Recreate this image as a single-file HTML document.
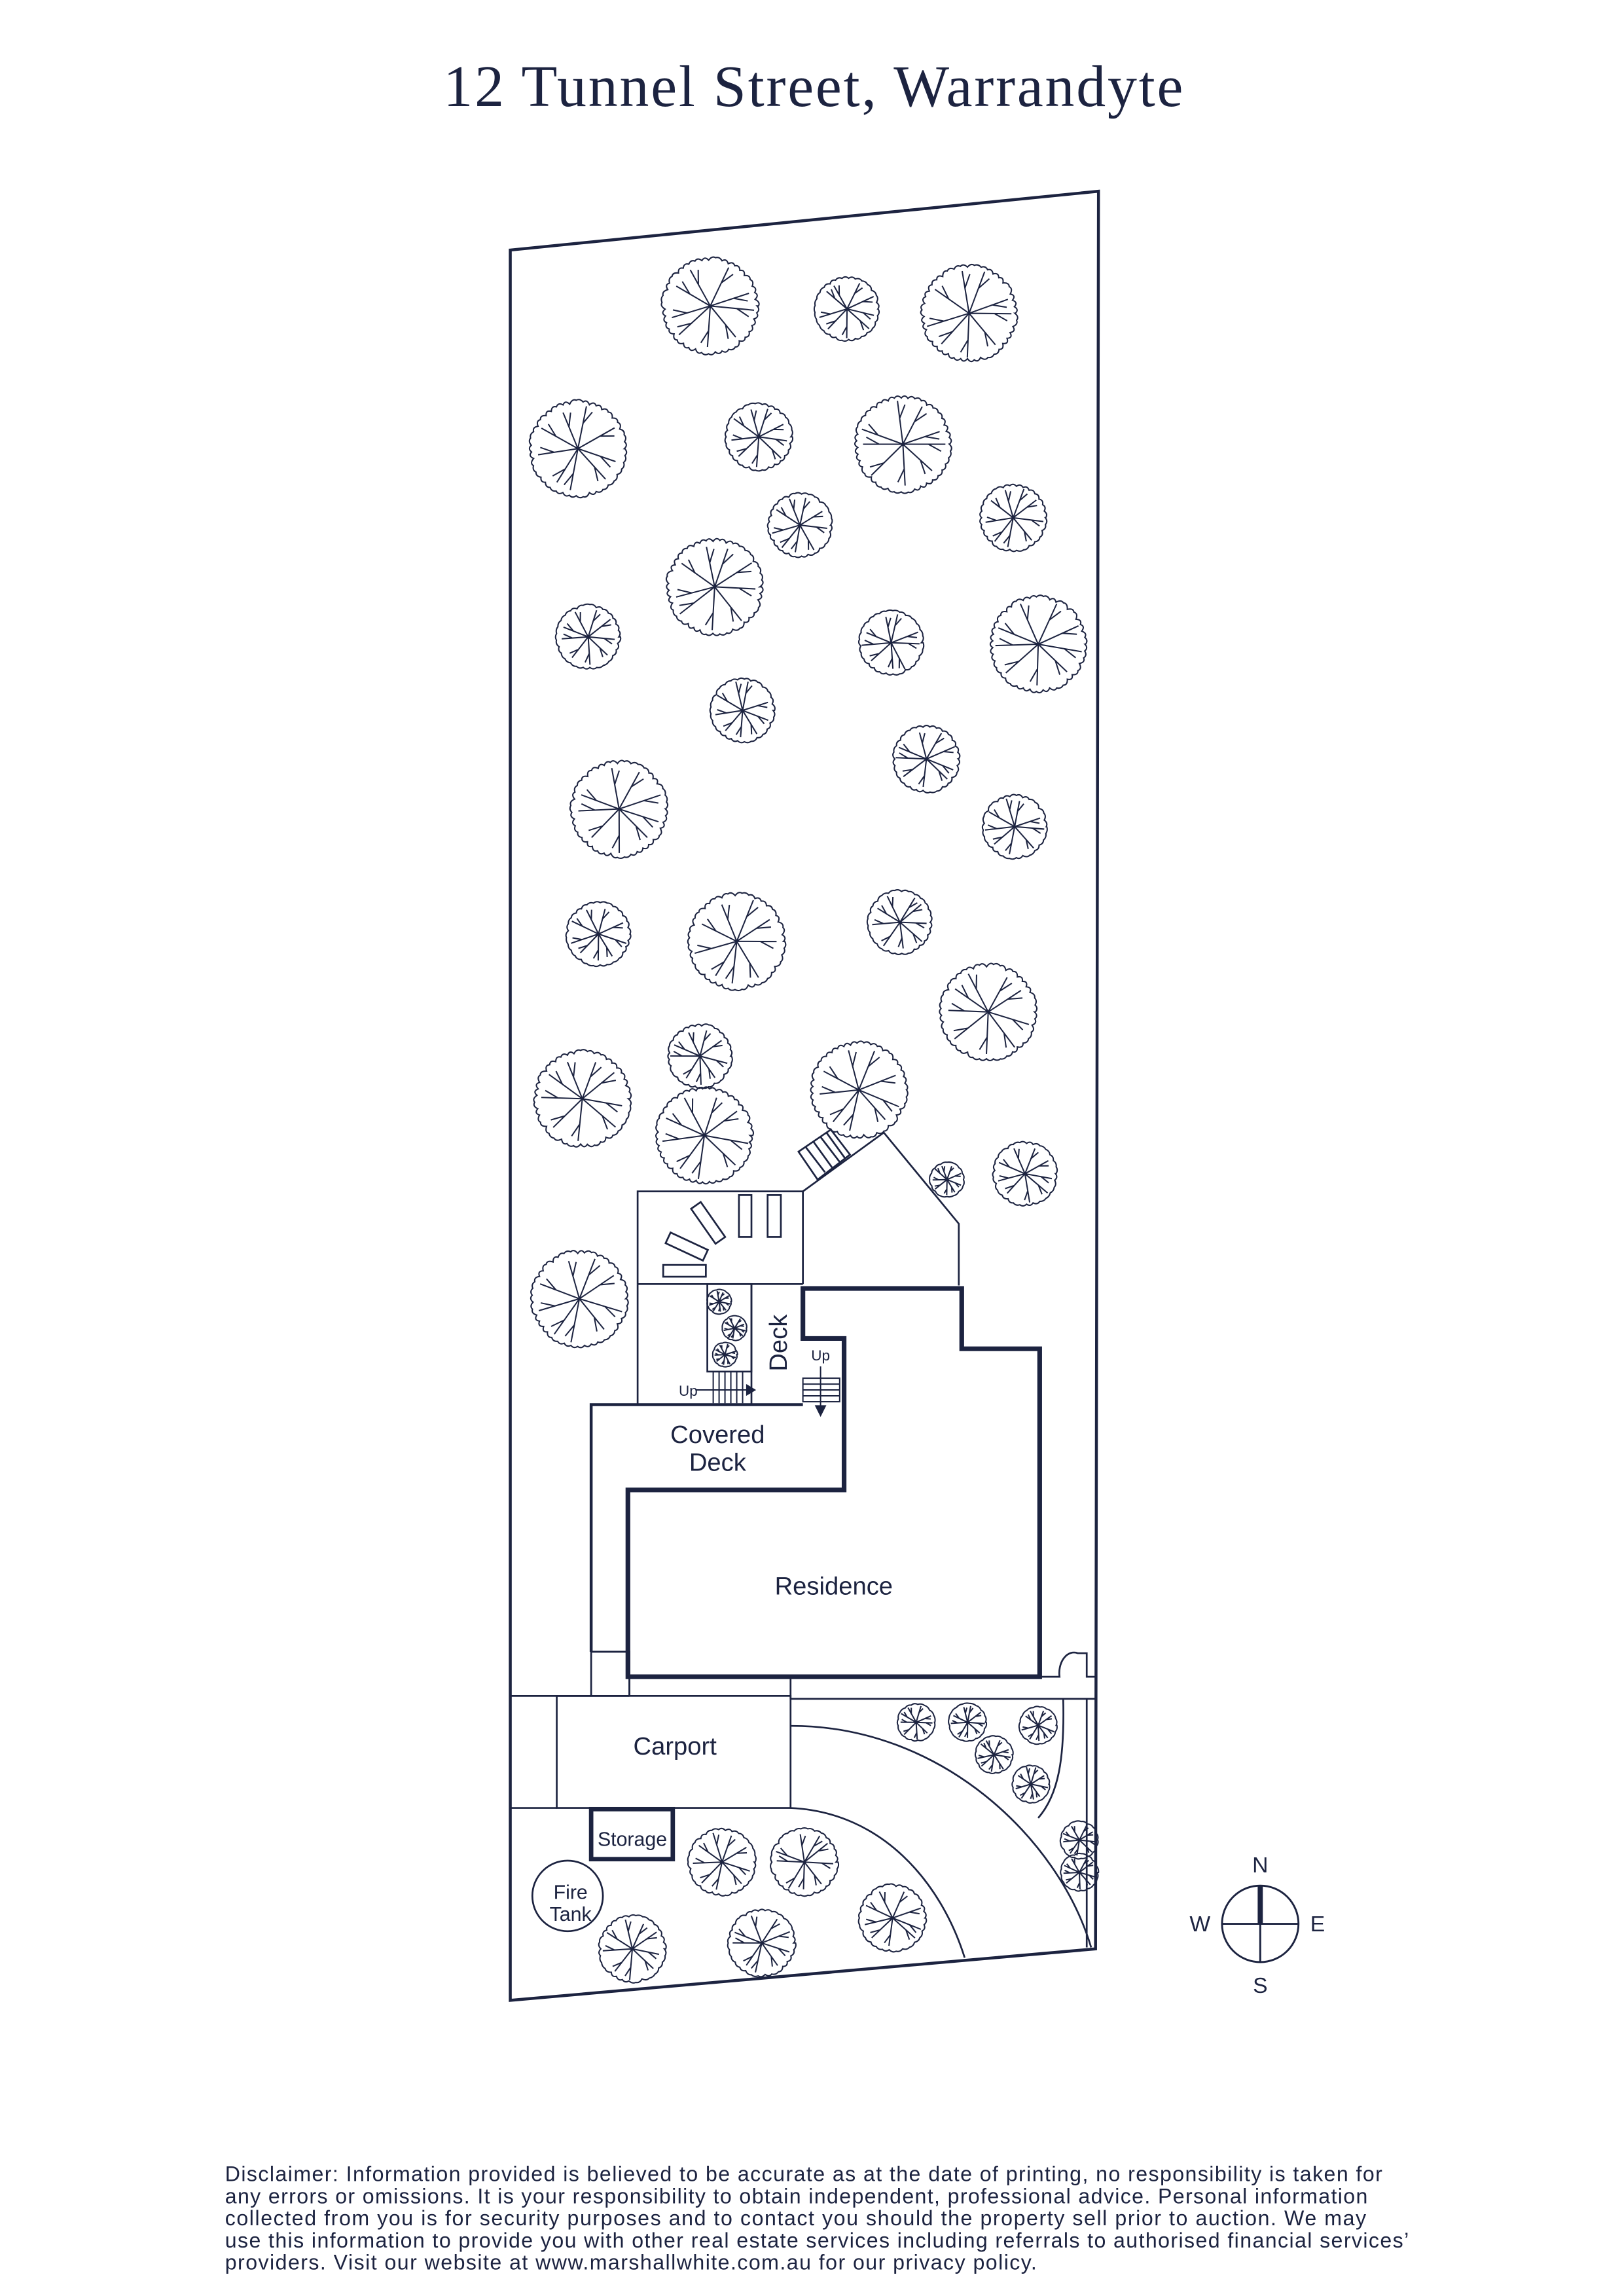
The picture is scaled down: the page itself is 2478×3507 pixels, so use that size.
<!DOCTYPE html>
<html><head><meta charset="utf-8"><style>
html,body{margin:0;padding:0;background:#fff}
svg{display:block}
text{font-family:"Liberation Sans",Arial,sans-serif;fill:#1c2340}
</style></head><body>
<svg id="s" xmlns="http://www.w3.org/2000/svg" width="2478" height="3507" viewBox="0 0 1103 1561">
<rect width="1103" height="1561" fill="#fff"/>
<g stroke="#1c2340" fill="none" stroke-linejoin="miter">
<text x="553" y="72" text-anchor="middle" font-size="40" textLength="503" style="font-family:'Liberation Serif',serif" stroke="none">12 Tunnel Street, Warrandyte</text>
<polygon points="347,170 747,130 745,1325 347,1360" stroke-width="2"/>
<g id="trees" stroke-width="0.9"></g>
<g stroke-width="1.2">
<polyline points="433.6,873 433.6,810 546,810 546,873"/>
<polyline points="546,810 601,770 652,832 652,874"/>
<polygon points="543,783 565,768 578,785 556,802"/>
<line x1="548" y1="780" x2="561" y2="797"/><line x1="553" y1="776" x2="566" y2="794"/><line x1="558" y1="773" x2="571" y2="790"/><line x1="562" y1="770" x2="575" y2="788"/>
<rect x="502.5" y="812.5" width="8.5" height="28.5"/>
<rect x="522" y="812.5" width="9" height="28.5"/>
<rect x="451" y="860" width="29" height="8"/>
<rect x="453" y="843.5" width="28" height="8" transform="rotate(25 467 847.5)"/>
<rect x="467" y="827.5" width="29" height="8" transform="rotate(55 481.6 831.5)"/>
<line x1="433.6" y1="873" x2="546" y2="873"/>
<line x1="433.6" y1="873" x2="433.6" y2="955"/>
<rect x="481" y="873" width="30" height="59.5"/>
<line x1="511" y1="873" x2="511" y2="955"/>
<g stroke-width="0.9"><line x1="485" y1="932.5" x2="485" y2="954"/><line x1="489" y1="932.5" x2="489" y2="954"/><line x1="493" y1="932.5" x2="493" y2="954"/><line x1="497" y1="932.5" x2="497" y2="954"/><line x1="501" y1="932.5" x2="501" y2="954"/><line x1="505" y1="932.5" x2="505" y2="954"/>
<line x1="473" y1="945" x2="508" y2="945"/></g>
<polygon points="508,942 513,945 508,948" fill="#1c2340"/>
<g stroke-width="0.9"><rect x="546" y="937" width="25" height="16"/><line x1="546" y1="941" x2="571" y2="941"/><line x1="546" y1="945" x2="571" y2="945"/><line x1="546" y1="949" x2="571" y2="949"/><line x1="558" y1="929" x2="558" y2="957"/></g>
<polygon points="555,956 558,962 561,956" fill="#1c2340"/>
</g>
<polyline points="402,1123 402,955 546,955" stroke-width="2"/>
<polyline points="402,1123 428,1123 428,1153" stroke-width="1.3"/>
<polygon points="546,876 654,876 654,917 707,917 707,1140 427,1140 427,1013 574,1013 574,910 546,910" stroke-width="3.2"/>
<path d="M707,1140 L720.5,1140 A10 14 0 0 1 733,1124 L739,1124 L739,1140 L745,1140" stroke-width="1.2"/>
<g stroke-width="1.2">
<line x1="347" y1="1153" x2="428" y2="1153"/>
<line x1="402" y1="1123" x2="402" y2="1153"/>
<rect x="378.6" y="1153" width="159" height="76.2"/>
<line x1="347" y1="1229.2" x2="378.6" y2="1229.2"/>
<line x1="537.6" y1="1140" x2="537.6" y2="1155"/>
<line x1="537.6" y1="1155" x2="745" y2="1155"/>
<line x1="739" y1="1155" x2="739" y2="1324"/>
<path d="M537.6,1173.4 C640,1173 720,1250 742,1324"/>
<path d="M537.6,1229.2 C600,1232 640,1280 656,1331"/>
<path d="M723,1155 C724,1195 720,1220 706,1236"/>
<circle cx="386" cy="1289" r="24"/>
</g>
<rect x="402" y="1230" width="55.5" height="34" stroke-width="3"/>
<circle cx="857" cy="1308" r="26" stroke-width="1.3"/>
<line x1="831" y1="1308" x2="883" y2="1308" stroke-width="1.3"/>
<line x1="857" y1="1282" x2="857" y2="1334" stroke-width="1.3"/>
<line x1="857" y1="1282" x2="857" y2="1308" stroke-width="3.5"/>
</g>
<g stroke="none">
<text x="488" y="981" font-size="17" text-anchor="middle">Covered</text>
<text x="488" y="1000" font-size="17" text-anchor="middle">Deck</text>
<text x="0" y="0" font-size="17" text-anchor="middle" transform="translate(535,913) rotate(-90)">Deck</text>
<text x="468" y="949" font-size="10" text-anchor="middle">Up</text>
<text x="558" y="925" font-size="10" text-anchor="middle">Up</text>
<text x="567" y="1084" font-size="17" text-anchor="middle">Residence</text>
<text x="459" y="1193" font-size="17" text-anchor="middle">Carport</text>
<text x="430" y="1255" font-size="13.5" text-anchor="middle">Storage</text>
<text x="388" y="1291" font-size="13.5" text-anchor="middle">Fire</text>
<text x="388" y="1306" font-size="13.5" text-anchor="middle">Tank</text>
<text x="857" y="1273" font-size="15" text-anchor="middle">N</text>
<text x="857" y="1355" font-size="15" text-anchor="middle">S</text>
<text x="816" y="1313" font-size="15" text-anchor="middle">W</text>
<text x="896" y="1313" font-size="15" text-anchor="middle">E</text>
<g font-size="14.3">
<text x="153" y="1483" textLength="787">Disclaimer: Information provided is believed to be accurate as at the date of printing, no responsibility is taken for</text>
<text x="153" y="1498" textLength="777">any errors or omissions. It is your responsibility to obtain independent, professional advice. Personal information</text>
<text x="153" y="1513" textLength="776">collected from you is for security purposes and to contact you should the property sell prior to auction. We may</text>
<text x="153" y="1528" textLength="805">use this information to provide you with other real estate services including referrals to authorised financial services’</text>
<text x="153" y="1543" textLength="552">providers. Visit our website at www.marshallwhite.com.au for our privacy policy.</text>
</g>
</g>
</svg>
<script>
(function(){
var T=[[483,208,33],[576,210,22],[659,213,33],[393,305,33],[516,297,23],[614,302,33],[689,352,23],[544,357,22],[486,399,33],[400,433,22],[606,437,22],[706,438,33],[505,483,22],[630,516,23],[421,550,33],[690,562,22],[407,635,22],[501,640,33],[612,627,22],[672,688,33],[476,718,22],[396,747,33],[584,741,33],[479,772,33],[697,798,22],[644,802,12],[394,883,33],
[489,885,8.5],[499.5,903,8.5],[493,921,8.5],
[623,1171,13],[658,1171,13],[706,1173,13],[676,1193,13],[701,1213,13],[734,1251,13],[734,1273,13],
[491,1266,23],[547,1266,23],[430,1325,23],[518,1321,23],[607,1304,23]];
var seed=7;function rnd(){seed=(seed*9301+49297)%233280;return seed/233280;}
var g=document.getElementById('trees'),ns='http://www.w3.org/2000/svg';
T.forEach(function(t){
 var cx=t[0],cy=t[1],r=t[2],n=Math.max(14,Math.round(r*1.3)),d='';
 for(var i=0;i<=n;i++){var a=i/n*2*Math.PI,rr=r*(0.93+0.07*rnd());
  var x=cx+rr*Math.cos(a),y=cy+rr*Math.sin(a);
  if(i==0)d+='M'+x.toFixed(1)+','+y.toFixed(1);else{var am=(i-0.5)/n*2*Math.PI,rb=r*1.04;d+='Q'+(cx+rb*Math.cos(am)).toFixed(1)+','+(cy+rb*Math.sin(am)).toFixed(1)+' '+x.toFixed(1)+','+y.toFixed(1);}}
 var p=document.createElementNS(ns,'path');p.setAttribute('d',d+'Z');g.appendChild(p);
 var k=9,s='';
 for(var j=0;j<k;j++){var a=j/k*2*Math.PI+rnd()*0.4,l=r*(0.8+0.12*rnd());
  var ex=cx+l*Math.cos(a),ey=cy+l*Math.sin(a);s+='M'+cx+','+cy+'L'+ex.toFixed(1)+','+ey.toFixed(1);
  var bx=cx+l*0.6*Math.cos(a),by=cy+l*0.6*Math.sin(a),ba=a+0.5;
  s+='M'+bx.toFixed(1)+','+by.toFixed(1)+'L'+(bx+r*0.3*Math.cos(ba)).toFixed(1)+','+(by+r*0.3*Math.sin(ba)).toFixed(1);}
 var q=document.createElementNS(ns,'path');q.setAttribute('d',s);g.appendChild(q);
});
})();
</script>
</body></html>
